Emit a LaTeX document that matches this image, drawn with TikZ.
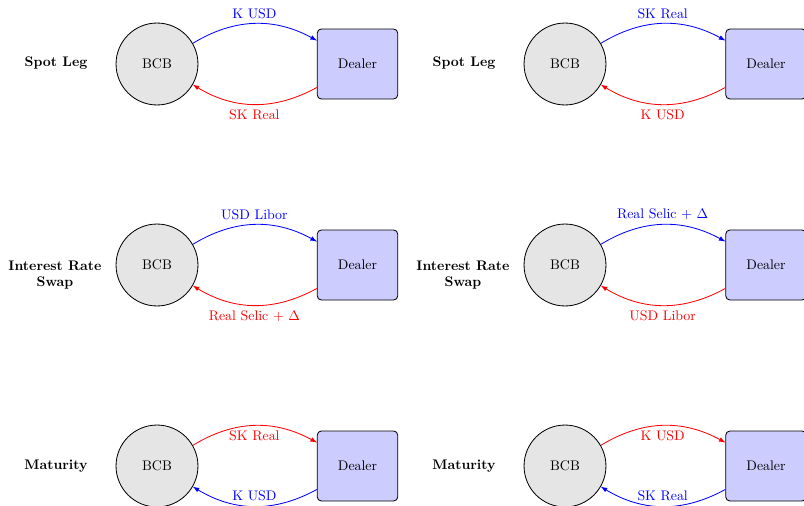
\documentclass[tikz,border=0pt]{standalone}
\usetikzlibrary{arrows}
\begin{document}
\begin{tikzpicture}[x=0.72pt,y=-0.72pt,
 bcbnode/.style={circle,draw,fill=gray!20,minimum size=59pt,inner sep=0pt,semithick},
 dealernode/.style={rectangle,rounded corners=3pt,draw,fill=blue!20,minimum width=58pt,minimum height=50.4pt,semithick},
 rowlabel/.style={font=\bfseries,align=center},
 flow/.style={-latex,semithick}]
\useasboundingbox (0,0) rectangle (804,506);
% ---- left column
\node[rowlabel] (l1) at (56,63) {Spot Leg};
\node[bcbnode] (b1) at (157,64) {BCB};
\node[dealernode] (d1) at (357.5,64) {Dealer};
\draw[flow,blue] (b1) to[bend left=30] node[above] {K USD} (d1);
\draw[flow,red] (d1) to[bend left=30] node[below] {SK Real} (b1);

\node[rowlabel] (l2) at (55,275) {Interest Rate\\Swap};
\node[bcbnode] (b2) at (157,265) {BCB};
\node[dealernode] (d2) at (357.5,265) {Dealer};
\draw[flow,blue] (b2) to[bend left=30] node[above] {USD Libor} (d2);
\draw[flow,red] (d2) to[bend left=30] node[below] {Real Selic + $\Delta$} (b2);

\node[rowlabel] (l3) at (56,466) {Maturity};
\node[bcbnode] (b3) at (157,466) {BCB};
\node[dealernode] (d3) at (357.5,466) {Dealer};
\draw[flow,red] (b3) to[bend left=30] node[below] {SK Real} (d3);
\draw[flow,blue] (d3) to[bend left=30] node[above] {K USD} (b3);
% ---- right column
\node[rowlabel] (r1) at (464,63) {Spot Leg};
\node[bcbnode] (b4) at (565,64) {BCB};
\node[dealernode] (d4) at (766,64) {Dealer};
\draw[flow,blue] (b4) to[bend left=30] node[above] {SK Real} (d4);
\draw[flow,red] (d4) to[bend left=30] node[below] {K USD} (b4);

\node[rowlabel] (r2) at (463,275) {Interest Rate\\Swap};
\node[bcbnode] (b5) at (565,265) {BCB};
\node[dealernode] (d5) at (766,265) {Dealer};
\draw[flow,blue] (b5) to[bend left=30] node[above] {Real Selic + $\Delta$} (d5);
\draw[flow,red] (d5) to[bend left=30] node[below] {USD Libor} (b5);

\node[rowlabel] (r3) at (464,466) {Maturity};
\node[bcbnode] (b6) at (565,466) {BCB};
\node[dealernode] (d6) at (766,466) {Dealer};
\draw[flow,red] (b6) to[bend left=30] node[below] {K USD} (d6);
\draw[flow,blue] (d6) to[bend left=30] node[above] {SK Real} (b6);
\end{tikzpicture}
\end{document}
